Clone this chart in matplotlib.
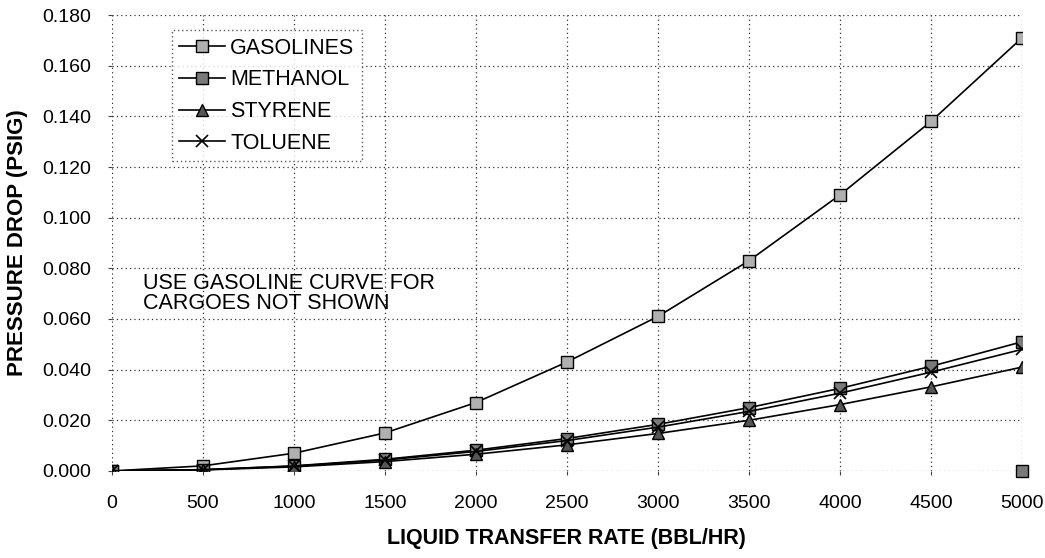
import matplotlib
matplotlib.use("Agg")
import matplotlib.pyplot as plt

plt.rcParams['font.family'] = ['Liberation Sans', 'DejaVu Sans']

rate = [0, 500, 1000, 1500, 2000, 2500, 3000, 3500, 4000, 4500, 5000]
gasolines = [0.000, 0.002, 0.007, 0.015, 0.027, 0.043, 0.061, 0.083, 0.109, 0.138, 0.171]
methanol = [0.000, 0.0005, 0.002, 0.0046, 0.0082, 0.0128, 0.0184, 0.025, 0.0326, 0.0413, 0.051]
styrene = [0.000, 0.0004, 0.0016, 0.0037, 0.0066, 0.0103, 0.0148, 0.020, 0.0262, 0.0332, 0.041]
toluene = [0.000, 0.0005, 0.0019, 0.0043, 0.0077, 0.012, 0.0173, 0.0235, 0.0307, 0.039, 0.048]
stray_x = [5000]
stray_y = [0.000]

x_ticks = [0, 500, 1000, 1500, 2000, 2500, 3000, 3500, 4000, 4500, 5000]
y_ticks = [0.000, 0.020, 0.040, 0.060, 0.080, 0.100, 0.120, 0.140, 0.160, 0.180]

fig = plt.figure(figsize=(10.45, 5.58), dpi=100)
ax = fig.add_axes([0.107, 0.156, 0.871, 0.817])

lw = 1.2
ax.plot(rate, gasolines, color='black', lw=lw, marker='s', ms=9,
        mfc='#b0b0b0', mec='black', mew=1.0, label='GASOLINES', zorder=4)
ax.plot(rate, methanol, color='black', lw=lw, marker='s', ms=9,
        mfc='#7a7a7a', mec='black', mew=1.0, label='METHANOL', zorder=4)
ax.plot(rate, styrene, color='black', lw=lw, marker='^', ms=8,
        mfc='#555555', mec='black', mew=1.0, label='STYRENE', zorder=4)
ax.plot(rate, toluene, color='black', lw=lw, marker='x', ms=9,
        mec='black', mew=1.2, label='TOLUENE', zorder=4)
ax.plot(stray_x, stray_y, linestyle='none', marker='s', ms=9,
        mfc='#7a7a7a', mec='black', mew=1.0, zorder=4, clip_on=False)

ax.set_xlim(0, 5000)
ax.set_ylim(0, 0.180)
ax.set_xticks(x_ticks)
ax.set_yticks(y_ticks)
ax.set_yticklabels([f"{v:.3f}" for v in y_ticks])
ax.tick_params(axis='both', labelsize=14, length=3, width=0.8, color='#444444')
ax.tick_params(axis='x', pad=14)
ax.tick_params(axis='y', pad=12)

for s in ax.spines.values():
    s.set_visible(False)
ax.grid(True, color='#333333', linestyle=(0, (1, 2.5)), linewidth=0.9)
ax.set_axisbelow(True)

ax.set_xlabel('LIQUID TRANSFER RATE (BBL/HR)', fontsize=15.5, fontweight='bold', labelpad=12)
ax.set_ylabel('PRESSURE DROP (PSIG)', fontsize=16, fontweight='bold', labelpad=10)

ax.text(170, 0.0700, 'USE GASOLINE CURVE FOR\nCARGOES NOT SHOWN', fontsize=15.5,
        va='center', ha='left', linespacing=0.95)

leg = ax.legend(loc='upper left', bbox_to_anchor=(0.066, 0.967), fontsize=15.5,
                frameon=True, fancybox=False, edgecolor='#333333', handlelength=2.1,
                handletextpad=0.25, labelspacing=0.5, borderpad=0.35, borderaxespad=0)
leg.get_frame().set_linestyle((0, (1, 2)))
leg.get_frame().set_linewidth(1.0)

fig.savefig('out.png', dpi=100)
